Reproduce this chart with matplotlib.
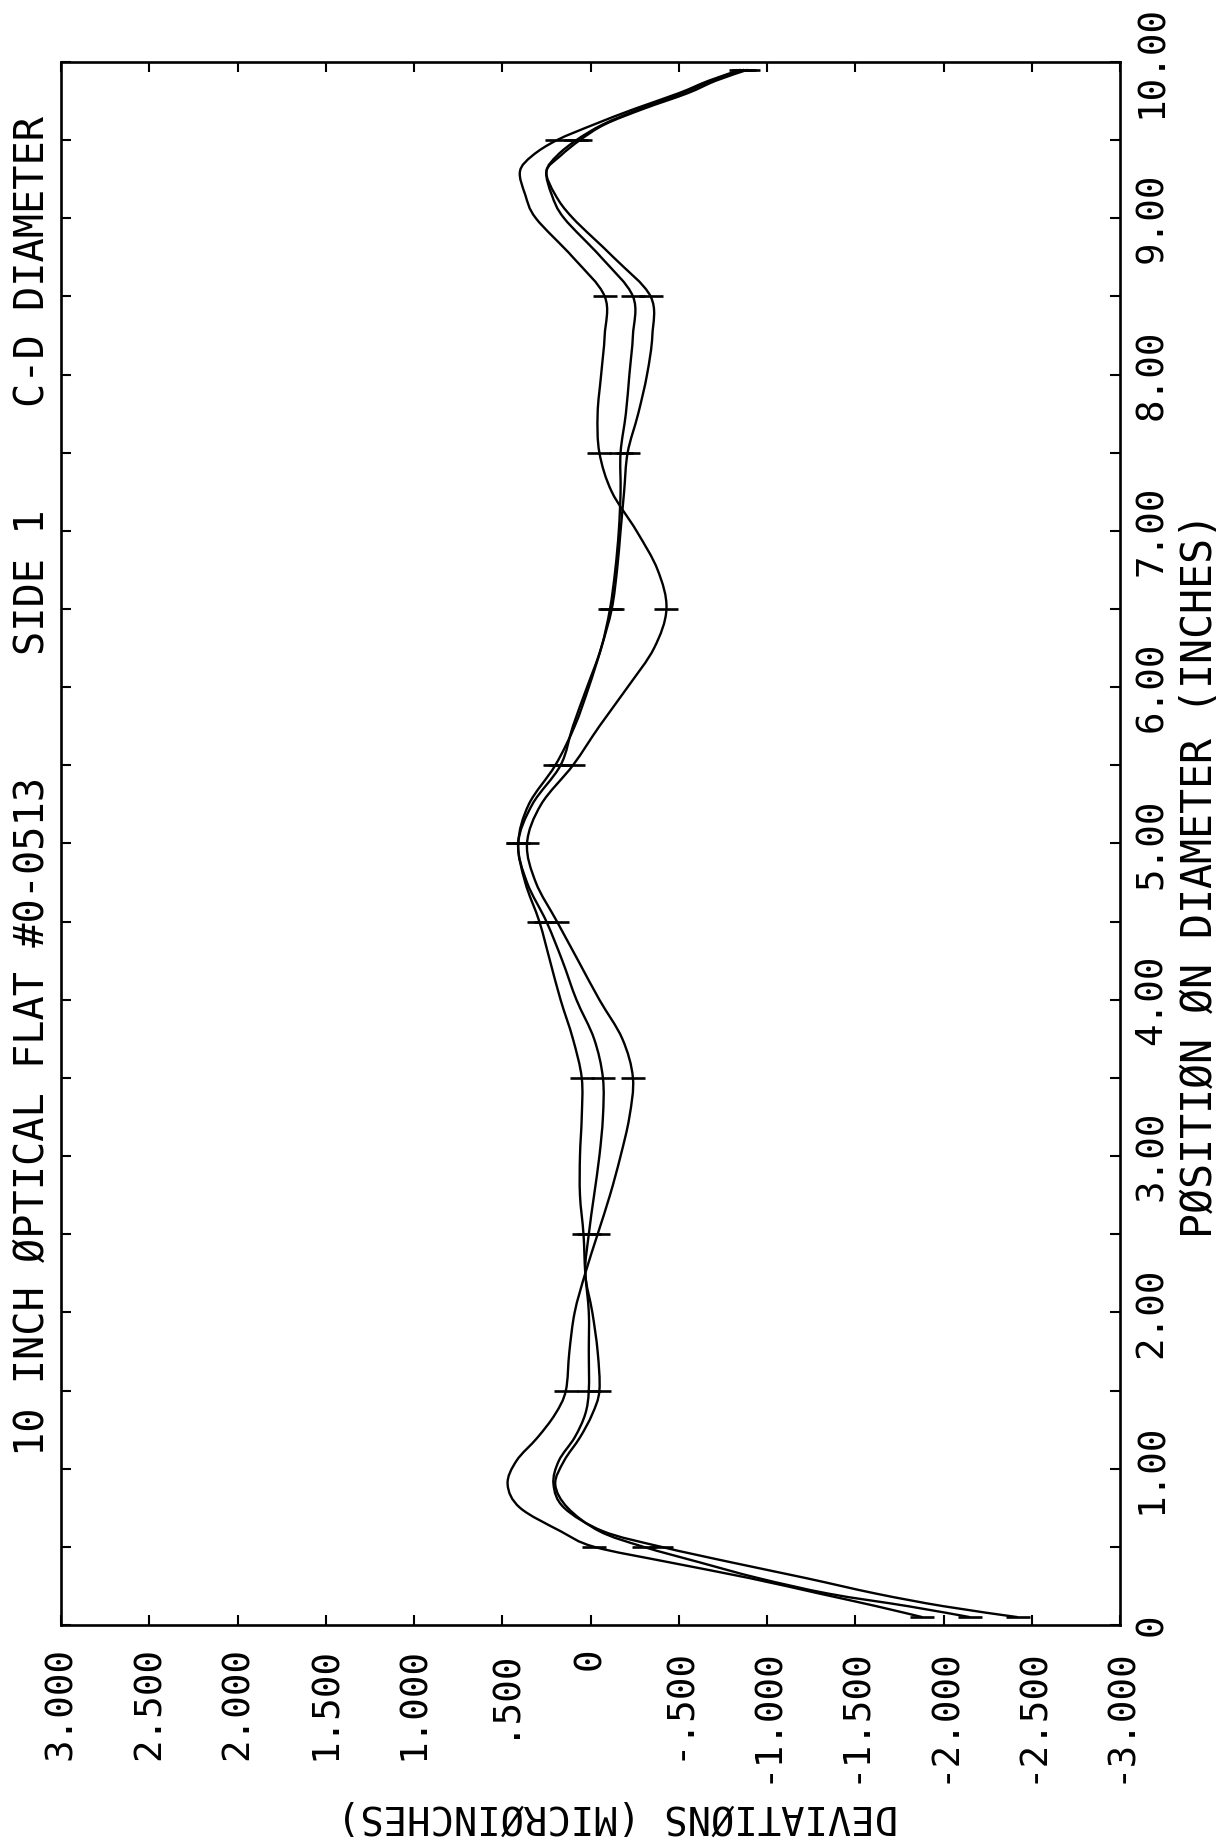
import numpy as np
import matplotlib
matplotlib.use("Agg")
import matplotlib.pyplot as plt
from matplotlib.path import Path
from matplotlib.patches import PathPatch
from matplotlib.ticker import FixedLocator

plt.rcParams['font.family'] = ['DejaVu Sans Mono', 'DejaVu Sans']

# -----------------------------------------------
# Datos: posicion sobre el diametro C-D (pulgadas)
# y desviaciones (micropulgadas) de las tres trazas
# -----------------------------------------------
posicion = [0.05, 0.12, 0.2, 0.3, 0.4, 0.5, 0.6, 0.75, 0.9, 1.05, 1.2, 1.35,
            1.5, 1.75, 2.0, 2.25, 2.5, 2.75, 3.0, 3.25, 3.5, 3.75, 4.0, 4.25,
            4.5, 4.75, 5.0, 5.25, 5.5, 5.75, 6.0, 6.25, 6.5, 6.75, 7.0, 7.25,
            7.5, 7.75, 8.0, 8.25, 8.5, 8.75, 9.0, 9.15, 9.3, 9.4, 9.5, 9.6,
            9.7, 9.8, 9.88, 9.95]

dev_a = [-1.88, -1.62, -1.30, -0.90, -0.45, -0.02, 0.17, 0.40, 0.47, 0.42, 0.30, 0.20,
         0.14, 0.12, 0.09, 0.03, -0.04, -0.11, -0.17, -0.22, -0.24, -0.18, -0.05, 0.07,
         0.19, 0.31, 0.36, 0.28, 0.10, -0.05, -0.21, -0.36, -0.43, -0.38, -0.26, -0.12,
         -0.05, -0.04, -0.06, -0.08, -0.08, 0.10, 0.31, 0.37, 0.40, 0.33, 0.19, -0.02,
         -0.25, -0.50, -0.67, -0.85]

dev_b = [-2.15, -1.80, -1.35, -0.95, -0.62, -0.30, -0.05, 0.13, 0.20, 0.15, 0.06, -0.01,
         -0.05, -0.04, -0.01, 0.03, 0.01, -0.02, -0.05, -0.07, -0.07, -0.02, 0.08, 0.16,
         0.25, 0.36, 0.41, 0.33, 0.17, 0.10, 0.02, -0.06, -0.11, -0.14, -0.16, -0.17,
         -0.17, -0.20, -0.22, -0.24, -0.24, -0.06, 0.15, 0.22, 0.25, 0.19, 0.08, -0.07,
         -0.28, -0.52, -0.69, -0.87]

dev_c = [-2.42, -2.00, -1.62, -1.22, -0.80, -0.40, -0.07, 0.15, 0.21, 0.18, 0.09, 0.03,
         0.01, 0.01, 0.01, 0.03, 0.04, 0.06, 0.06, 0.05, 0.05, 0.10, 0.17, 0.23,
         0.29, 0.37, 0.41, 0.35, 0.20, 0.09, 0.01, -0.06, -0.12, -0.15, -0.17, -0.19,
         -0.21, -0.27, -0.32, -0.35, -0.34, -0.13, 0.10, 0.20, 0.25, 0.17, 0.06, -0.08,
         -0.30, -0.55, -0.71, -0.89]

# posiciones donde el trazador dibuja una marca
pos_marcas = [0.05, 0.5, 1.5, 2.5, 3.5, 4.5, 5.0, 5.5, 6.5, 7.5, 8.5, 9.5, 9.95]

dev_ticks = [3.0, 2.5, 2.0, 1.5, 1.0, 0.5, 0.0, -0.5, -1.0, -1.5, -2.0, -2.5, -3.0]
dev_labels = ['3.000', '2.500', '2.000', '1.500', '1.000', '.500', '0',
              '-.500', '-1.000', '-1.500', '-2.000', '-2.500', '-3.000']
pos_ticks = [0, 1, 2, 3, 4, 5, 6, 7, 8, 9, 10]
pos_labels = ['0', '1.00', '2.00', '3.00', '4.00', '5.00', '6.00', '7.00',
              '8.00', '9.00', '10.00']
pos_ticks_menores = [0.5, 1.5, 2.5, 3.5, 4.5, 5.5, 6.5, 7.5, 8.5, 9.5]


def trazo_suave(x, y):
    """Path Bezier (Catmull-Rom) que pasa por cada punto, como el trazador."""
    p = np.column_stack([x, y])
    verts = [p[0]]
    codes = [Path.MOVETO]
    n = len(p)
    for i in range(n - 1):
        p0 = p[max(i - 1, 0)]
        p1 = p[i]
        p2 = p[i + 1]
        p3 = p[min(i + 2, n - 1)]
        verts += [p1 + (p2 - p0) / 6, p2 - (p3 - p1) / 6, p2]
        codes += [Path.CURVE4] * 3
    return Path(verts, codes)


# -----------------------------------------------
# Figura (la hoja original esta girada 90 grados)
# -----------------------------------------------
fig = plt.figure(figsize=(12.26, 18.43), dpi=100)
ax = fig.add_axes([0.0498, 0.1183, 0.8638, 0.8481])

pos = np.array(posicion)
marca = np.isin(pos, pos_marcas)
for dev in (dev_a, dev_b, dev_c):
    dev = np.array(dev)
    ax.add_patch(PathPatch(trazo_suave(dev, pos), fill=False,
                           edgecolor='black', lw=1.7))
    ax.plot(dev[marca], pos[marca], ls='none', marker='_', ms=17, mew=1.9,
            color='black')

ax.set_xlim(3, -3)
ax.set_ylim(0, 10)

ax.set_xticks(dev_ticks)
ax.set_xticklabels(dev_labels, rotation=90, fontsize=27)
ax.set_yticks(pos_ticks)
ax.set_yticklabels(pos_labels, rotation=90, va='center', fontsize=27)
ax.yaxis.set_minor_locator(FixedLocator(pos_ticks_menores))

ax.tick_params(which='both', direction='in', length=7.5, width=1.5,
               top=True, bottom=True, left=True, right=True,
               labelleft=False, labelright=True, labelbottom=True)
ax.tick_params(axis='x', pad=16)
ax.tick_params(axis='y', pad=10)
for sp in ax.spines.values():
    sp.set_linewidth(1.9)

# rotulos (todos girados como en la hoja)
fig.text(0.027, 0.394, '10 INCH ØPTICAL FLAT #0-0513', rotation=90,
         ha='center', va='center', fontsize=29)
fig.text(0.027, 0.684, 'SIDE 1', rotation=90, ha='center', va='center',
         fontsize=29)
fig.text(0.027, 0.858, 'C-D DIAMETER', rotation=90, ha='center', va='center',
         fontsize=29)
fig.text(0.979, 0.525, 'PØSITIØN ØN DIAMETER (INCHES)', rotation=90,
         ha='center', va='center', fontsize=30)
fig.text(0.504, 0.0146, 'DEVIATIØNS (MICRØINCHES)', rotation=180,
         ha='center', va='center', fontsize=28)

fig.savefig('out.png', dpi=100)
